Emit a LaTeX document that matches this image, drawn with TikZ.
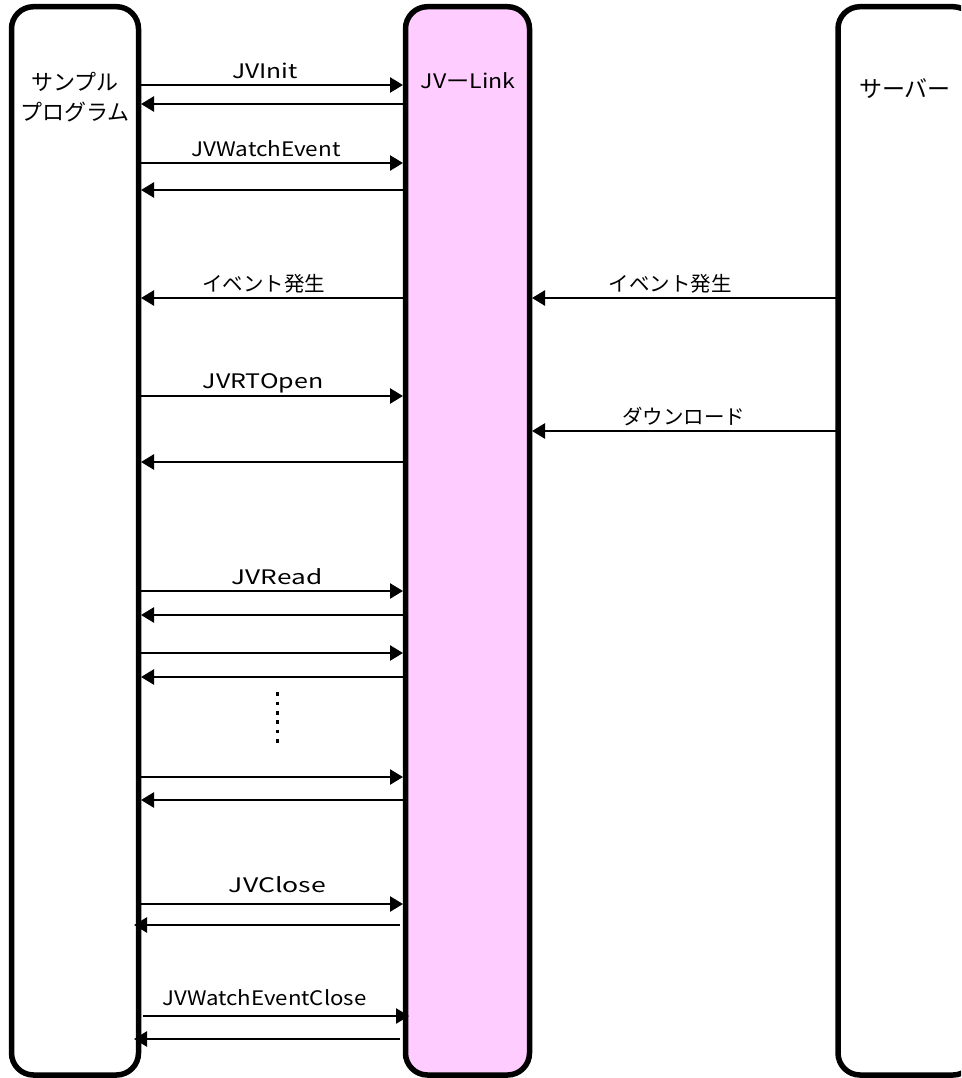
\documentclass[tikz,border=0pt]{standalone}
\usepackage{graphicx}
\usepackage{fontspec}
\setmainfont{Noto Sans CJK JP}
\usetikzlibrary{arrows.meta}
\newcommand{\widen}[2]{\scalebox{#1}[1]{#2}}
\tikzset{
  lane/.style={draw=black,line width=5.5pt,rounded corners=22pt},
  msg/.style={line width=2.6pt,-{Triangle[length=13pt,width=15pt]}},
  lbl/.style={inner sep=0pt,font=\fontsize{20}{20}\selectfont,anchor=center},
  jlbl/.style={inner sep=0pt,font=\fontsize{20.5}{20.5}\selectfont,anchor=center},
  head/.style={inner sep=0pt,font=\fontsize{22}{30}\selectfont,align=center,anchor=center}
}
\begin{document}
\begin{tikzpicture}[x=1pt,y=-1pt]
\useasboundingbox[fill=white] (0,0) rectangle (961,1078);
\clip (0,0) rectangle (961,1078);
\draw[lane] (11.5,6.7) rectangle (138.5,1075);
\draw[lane,fill={rgb,255:red,255;green,204;blue,255}] (405.5,6.7) rectangle (529.5,1075);
\draw[lane] (838,6.7) rectangle (975,1075);
\node[head] (a) at (75,97) {サンプル\\プログラム};
\node[lbl] (b) at (468,81) {\widen{1.157}{JVーLink}};
\node[head,font=\fontsize{23}{25}\selectfont] (c) at (905,89) {サーバー};
\foreach \n/\y in {a1/85,a3/163,a6/396,a9/591,a11/653,a13/777,a15/904}{
  \coordinate (\n l) at (141,\y); \coordinate (\n r) at (403,\y);
  \draw[msg] (\n l) -- (\n r);
}
\foreach \n/\y in {a2/104,a4/190,a5/298,a8/462,a10/615,a12/677,a14/800}{
  \coordinate (\n l) at (141,\y); \coordinate (\n r) at (403,\y);
  \draw[msg] (\n r) -- (\n l);
}
\coordinate (a16l) at (134,925); \coordinate (a16r) at (400,925);
\draw[msg] (a16r) -- (a16l);
\coordinate (a17l) at (143,1016); \coordinate (a17r) at (409,1016);
\draw[msg] (a17l) -- (a17r);
\coordinate (a18l) at (134,1039); \coordinate (a18r) at (400,1039);
\draw[msg] (a18r) -- (a18l);
\coordinate (s1l) at (532,298); \coordinate (s1r) at (836,298);
\draw[msg] (s1r) -- (s1l);
\coordinate (s2l) at (532,431); \coordinate (s2r) at (836,431);
\draw[msg] (s2r) -- (s2l);
\coordinate (d1) at (277.7,692.2); \coordinate (d2) at (277.7,742.8);
\draw[line width=3.5pt,dash pattern=on 3.5pt off 5.9pt] (d1) -- (d2);
\node[lbl] (t1) at (265,71) {\widen{1.23}{JVInit}};
\node[lbl] (t2) at (266,149) {\widen{1.125}{JVWatchEvent}};
\node[jlbl] (t3) at (263.5,284) {イベント発生};
\node[jlbl] (t4) at (670,284) {イベント発生};
\node[lbl] (t5) at (263,383) {\widen{1.25}{JVRTOpen}};
\node[jlbl] (t6) at (683.5,417) {ダウンロード};
\node[lbl] (t7) at (277,577) {\widen{1.31}{JVRead}};
\node[lbl] (t8) at (277.5,885) {\widen{1.33}{JVClose}};
\node[lbl] (t9) at (264.6,998) {\widen{1.11}{JVWatchEventClose}};
\end{tikzpicture}
\end{document}
